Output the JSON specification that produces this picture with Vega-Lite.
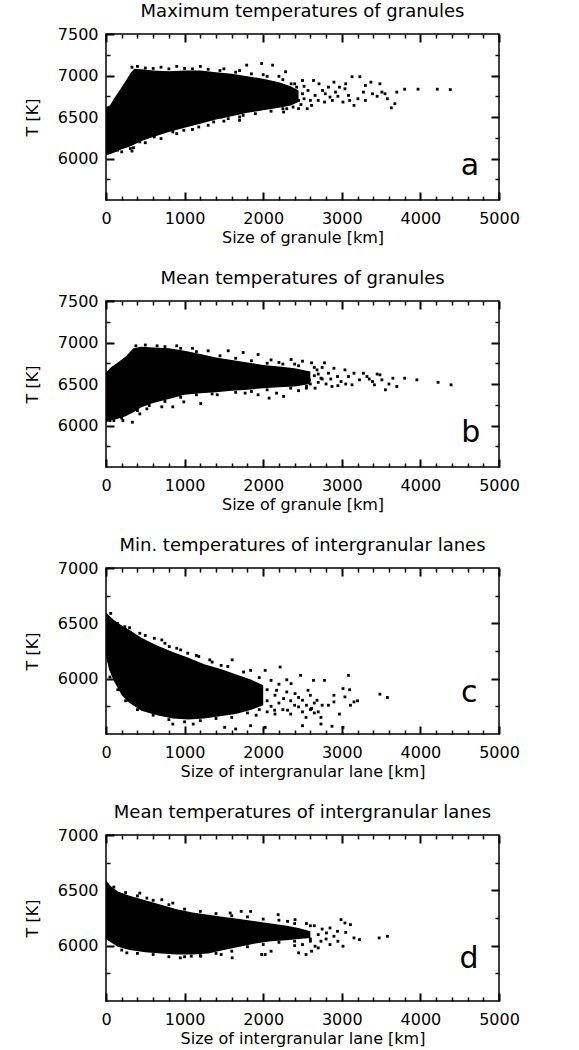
{
"$schema": "https://vega.github.io/schema/vega-lite/v6.json",
"padding": {"left": 23, "top": 2, "right": 3, "bottom": 2},
"spacing": 23,
"config": {
 "font": "DejaVu Sans",
 "view": {"stroke": "#000", "strokeWidth": 1.5},
 "axis": {"grid": false, "domain": false, "ticks": true, "tickColor": "black", "tickOpacity": 1, "tickWidth": 2, "labelColor": "#000", "titleColor": "#000", "labelFont": "DejaVu Sans", "labelFontSize": 16, "titleFont": "DejaVu Sans", "titleFontSize": 16, "titleFontWeight": "normal", "labelFlush": false, "labelOverlap": false, "format": "d"},
 "title": {"font": "DejaVu Sans", "fontSize": 18, "fontWeight": "normal", "color": "#000", "frame": "group", "offset": 5}
},
"datasets": {
 "coreA": [
  {"x":0,"lo":6040,"hi":6620},{"x":50,"lo":6050,"hi":6640},{"x":100,"lo":6070,"hi":6720},{"x":150,"lo":6090,"hi":6790},{"x":200,"lo":6110,"hi":6860},{"x":260,"lo":6130,"hi":6950},{"x":320,"lo":6150,"hi":7040},{"x":360,"lo":6170,"hi":7080},{"x":450,"lo":6210,"hi":7075},{"x":600,"lo":6260,"hi":7060},{"x":800,"lo":6320,"hi":7050},{"x":1000,"lo":6370,"hi":7060},{"x":1200,"lo":6420,"hi":7060},{"x":1400,"lo":6470,"hi":7040},{"x":1600,"lo":6510,"hi":7020},{"x":1800,"lo":6550,"hi":6990},{"x":2000,"lo":6580,"hi":6960},{"x":2200,"lo":6610,"hi":6920},{"x":2350,"lo":6640,"hi":6870},{"x":2450,"lo":6680,"hi":6820}
 ],
 "ptsA": [
  {"x":4380,"t":6830},{"x":4215,"t":6835},{"x":3970,"t":6835},{"x":3800,"t":6835},{"x":3675,"t":6660},{"x":3580,"t":6720},{"x":3630,"t":6610},{"x":3510,"t":6800},{"x":3485,"t":6900},{"x":3390,"t":6780},{"x":3370,"t":6920},{"x":3275,"t":6800},{"x":3230,"t":6985},{"x":3205,"t":6720},{"x":3155,"t":6640},{"x":3130,"t":6985},{"x":3085,"t":6760},{"x":3040,"t":6840},{"x":3015,"t":6680},{"x":2970,"t":6860},{"x":2920,"t":6800},{"x":2900,"t":6920},{"x":2850,"t":6740},{"x":2830,"t":6860},{"x":2780,"t":6680},{"x":2755,"t":6820},{"x":2710,"t":6900},{"x":2660,"t":6760},{"x":2615,"t":6640},{"x":2640,"t":6940},{"x":2570,"t":6820},{"x":2520,"t":6720},{"x":2500,"t":6940},{"x":2450,"t":6600},{"x":2425,"t":6860},{"x":2405,"t":6760},{"x":2355,"t":6900},{"x":2335,"t":6680},{"x":2285,"t":7045},{"x":2260,"t":6560},{"x":2120,"t":7125},{"x":1980,"t":7145},{"x":1790,"t":7125},{"x":1555,"t":6480},{"x":1370,"t":6440},{"x":1180,"t":6380},{"x":990,"t":6340},{"x":850,"t":6320},{"x":615,"t":6260},{"x":430,"t":6200},{"x":310,"t":6120},{"x":145,"t":6100},{"x":240,"t":6200},{"x":1700,"t":6460},{"x":1745,"t":6520},{"x":1465,"t":6500},{"x":400,"t":7110},{"x":700,"t":7100},{"x":900,"t":7110},{"x":1200,"t":7110},{"x":1500,"t":7080},{"x":1700,"t":7060},{"x":2000,"t":7010},{"x":2200,"t":6990},{"x":2500,"t":6780},{"x":2560,"t":6600},{"x":2600,"t":6700},{"x":2480,"t":6650},{"x":2380,"t":6620},{"x":2300,"t":6600},{"x":2700,"t":6700},{"x":2790,"t":6780},{"x":2880,"t":6700},{"x":2950,"t":6750},{"x":3100,"t":6700},{"x":3300,"t":6700},{"x":3450,"t":6750},{"x":3550,"t":6780},{"x":3700,"t":6800},{"x":3300,"t":6880},{"x":3050,"t":6900},{"x":330,"t":6090},
  {"x":200,"t":6080},{"x":350,"t":6130},{"x":500,"t":6190},{"x":700,"t":6240},{"x":900,"t":6300},{"x":1100,"t":6350},{"x":1300,"t":6400},{"x":1500,"t":6450},{"x":1700,"t":6500},{"x":1900,"t":6540},{"x":2100,"t":6570},{"x":2250,"t":6600},{"x":330,"t":7100},{"x":500,"t":7090},{"x":600,"t":7085},{"x":800,"t":7080},{"x":1000,"t":7085},{"x":1100,"t":7080},{"x":1300,"t":7075},{"x":1450,"t":7060},{"x":1650,"t":7040},{"x":1850,"t":7020},{"x":2050,"t":6990},{"x":2250,"t":6950},{"x":2400,"t":6900},{"x":2450,"t":6700},{"x":2520,"t":6870}
 ],
 "coreB": [
  {"x":0,"lo":6040,"hi":6640},{"x":60,"lo":6060,"hi":6700},{"x":150,"lo":6080,"hi":6760},{"x":250,"lo":6110,"hi":6830},{"x":350,"lo":6160,"hi":6930},{"x":450,"lo":6220,"hi":6950},{"x":600,"lo":6270,"hi":6940},{"x":800,"lo":6320,"hi":6930},{"x":1000,"lo":6370,"hi":6900},{"x":1200,"lo":6390,"hi":6860},{"x":1400,"lo":6400,"hi":6820},{"x":1600,"lo":6420,"hi":6790},{"x":1800,"lo":6430,"hi":6760},{"x":2000,"lo":6450,"hi":6730},{"x":2200,"lo":6460,"hi":6710},{"x":2400,"lo":6470,"hi":6690},{"x":2600,"lo":6500,"hi":6650}
 ],
 "ptsB": [
  {"x":4390,"t":6490},{"x":4225,"t":6520},{"x":3955,"t":6550},{"x":3800,"t":6570},{"x":3700,"t":6470},{"x":3650,"t":6570},{"x":3555,"t":6430},{"x":3510,"t":6550},{"x":3485,"t":6610},{"x":3415,"t":6490},{"x":3390,"t":6530},{"x":3320,"t":6590},{"x":3275,"t":6630},{"x":3225,"t":6550},{"x":3155,"t":6630},{"x":3130,"t":6490},{"x":3085,"t":6590},{"x":3040,"t":6670},{"x":2990,"t":6530},{"x":2945,"t":6590},{"x":2900,"t":6690},{"x":2875,"t":6470},{"x":2830,"t":6630},{"x":2780,"t":6755},{"x":2735,"t":6570},{"x":2685,"t":6670},{"x":2660,"t":6450},{"x":2615,"t":6755},{"x":2590,"t":6550},{"x":2500,"t":6775},{"x":2355,"t":6795},{"x":2260,"t":6350},{"x":2170,"t":6390},{"x":2075,"t":6330},{"x":1935,"t":6370},{"x":1935,"t":6855},{"x":1770,"t":6390},{"x":1745,"t":6880},{"x":1555,"t":6900},{"x":1415,"t":6370},{"x":1205,"t":6265},{"x":990,"t":6285},{"x":850,"t":6225},{"x":710,"t":6225},{"x":520,"t":6200},{"x":430,"t":6140},{"x":335,"t":6040},{"x":215,"t":6060},{"x":50,"t":6060},{"x":2700,"t":6520},{"x":2750,"t":6700},{"x":2800,"t":6500},{"x":2650,"t":6600},{"x":2550,"t":6450},{"x":2450,"t":6420},{"x":2400,"t":6740},{"x":2200,"t":6760},{"x":2100,"t":6790},{"x":1300,"t":6900},{"x":1100,"t":6930},{"x":900,"t":6960},{"x":2950,"t":6480},{"x":3050,"t":6500},{"x":3350,"t":6560},{"x":3450,"t":6620},{"x":3600,"t":6500},{"x":2860,"t":6560},{"x":2600,"t":6500},
  {"x":100,"t":6060},{"x":200,"t":6090},{"x":400,"t":6180},{"x":550,"t":6240},{"x":750,"t":6290},{"x":950,"t":6340},{"x":1150,"t":6370},{"x":1350,"t":6380},{"x":1650,"t":6400},{"x":1850,"t":6410},{"x":2050,"t":6430},{"x":2350,"t":6450},{"x":2550,"t":6470},{"x":380,"t":6960},{"x":500,"t":6970},{"x":650,"t":6960},{"x":750,"t":6950},{"x":950,"t":6930},{"x":1150,"t":6890},{"x":1450,"t":6840},{"x":1650,"t":6810},{"x":1850,"t":6780},{"x":2050,"t":6750},{"x":2250,"t":6740},{"x":2450,"t":6720},{"x":2650,"t":6700},{"x":2700,"t":6620},{"x":2750,"t":6560}
 ],
 "coreC": [
  {"x":0,"lo":6200,"hi":6600},{"x":40,"lo":6080,"hi":6570},{"x":100,"lo":5980,"hi":6530},{"x":200,"lo":5850,"hi":6480},{"x":300,"lo":5780,"hi":6440},{"x":450,"lo":5710,"hi":6370},{"x":650,"lo":5670,"hi":6300},{"x":850,"lo":5640,"hi":6240},{"x":1050,"lo":5630,"hi":6190},{"x":1250,"lo":5640,"hi":6130},{"x":1450,"lo":5660,"hi":6090},{"x":1650,"lo":5680,"hi":6040},{"x":1850,"lo":5720,"hi":5990},{"x":2000,"lo":5760,"hi":5940}
 ],
 "ptsC": [
  {"x":3580,"t":5830},{"x":3485,"t":5860},{"x":3155,"t":5790},{"x":3110,"t":5760},{"x":3085,"t":6030},{"x":3015,"t":5910},{"x":3040,"t":5835},{"x":2970,"t":5680},{"x":2900,"t":5790},{"x":2830,"t":5760},{"x":2780,"t":5985},{"x":2735,"t":5650},{"x":2685,"t":5805},{"x":2640,"t":5985},{"x":2615,"t":5730},{"x":2570,"t":5895},{"x":2545,"t":5650},{"x":2500,"t":5805},{"x":2475,"t":6030},{"x":2450,"t":5745},{"x":2405,"t":5865},{"x":2355,"t":5955},{"x":2310,"t":5715},{"x":2260,"t":5820},{"x":2215,"t":6105},{"x":2170,"t":5895},{"x":2145,"t":5715},{"x":2100,"t":5985},{"x":2025,"t":6075},{"x":1980,"t":5775},{"x":1935,"t":5880},{"x":1910,"t":5670},{"x":1840,"t":6075},{"x":1790,"t":5835},{"x":1745,"t":5760},{"x":1605,"t":6170},{"x":1465,"t":6120},{"x":1320,"t":6170},{"x":1180,"t":6200},{"x":1040,"t":6230},{"x":900,"t":6275},{"x":805,"t":6290},{"x":710,"t":6350},{"x":615,"t":6365},{"x":430,"t":6410},{"x":240,"t":6470},{"x":145,"t":6500},{"x":3015,"t":5560},{"x":2875,"t":5570},{"x":2735,"t":5590},{"x":2500,"t":5575},{"x":2025,"t":5560},{"x":1840,"t":5575},{"x":1650,"t":5545},{"x":1510,"t":5560},{"x":1110,"t":5590},{"x":850,"t":5590},{"x":285,"t":5805},{"x":50,"t":6015},{"x":30,"t":6165},{"x":2050,"t":5800},{"x":2100,"t":5750},{"x":2150,"t":5850},{"x":2200,"t":5780},{"x":2250,"t":5720},{"x":2300,"t":5880},{"x":2350,"t":5800},{"x":2400,"t":5760},{"x":2450,"t":5830},{"x":2500,"t":5700},{"x":2550,"t":5760},{"x":2600,"t":5720},{"x":2650,"t":5780},{"x":2700,"t":5700},{"x":2750,"t":5760},{"x":2200,"t":5950},{"x":2300,"t":5990},{"x":2050,"t":5900},{"x":2150,"t":5680},{"x":2350,"t":5680},{"x":2600,"t":5850},{"x":2650,"t":5690},{"x":2050,"t":5700},{"x":1950,"t":5850},{"x":2900,"t":5850},{"x":3200,"t":5800},{"x":3100,"t":5900},
  {"x":60,"t":6590},{"x":300,"t":6460},{"x":500,"t":6390},{"x":750,"t":6320},{"x":950,"t":6260},{"x":1150,"t":6210},{"x":1350,"t":6150},{"x":1550,"t":6110},{"x":1750,"t":6060},{"x":1950,"t":6010},{"x":150,"t":5900},{"x":250,"t":5800},{"x":400,"t":5720},{"x":600,"t":5670},{"x":800,"t":5630},{"x":1000,"t":5610},{"x":1200,"t":5620},{"x":1400,"t":5640},{"x":1600,"t":5650},{"x":1800,"t":5690},{"x":1950,"t":5720}
 ],
 "coreD": [
  {"x":0,"lo":6060,"hi":6590},{"x":60,"lo":6030,"hi":6540},{"x":150,"lo":5990,"hi":6490},{"x":300,"lo":5960,"hi":6450},{"x":500,"lo":5940,"hi":6410},{"x":700,"lo":5930,"hi":6370},{"x":900,"lo":5920,"hi":6330},{"x":1100,"lo":5920,"hi":6300},{"x":1300,"lo":5930,"hi":6280},{"x":1500,"lo":5960,"hi":6260},{"x":1700,"lo":5990,"hi":6240},{"x":1900,"lo":6020,"hi":6220},{"x":2100,"lo":6040,"hi":6200},{"x":2300,"lo":6050,"hi":6180},{"x":2450,"lo":6060,"hi":6160},{"x":2600,"lo":6070,"hi":6130}
 ],
 "ptsD": [
  {"x":3580,"t":6085},{"x":3475,"t":6070},{"x":3225,"t":6055},{"x":3155,"t":6070},{"x":3110,"t":6190},{"x":3040,"t":6205},{"x":3015,"t":5995},{"x":2990,"t":6235},{"x":2945,"t":6130},{"x":2900,"t":6085},{"x":2850,"t":6160},{"x":2805,"t":6115},{"x":2735,"t":6040},{"x":2660,"t":5995},{"x":2615,"t":5950},{"x":2545,"t":5920},{"x":2450,"t":5935},{"x":2405,"t":6235},{"x":2310,"t":6220},{"x":2190,"t":6280},{"x":2100,"t":5950},{"x":2025,"t":5920},{"x":1980,"t":5920},{"x":1840,"t":6310},{"x":1720,"t":6310},{"x":1580,"t":6295},{"x":1605,"t":5890},{"x":1465,"t":5920},{"x":1205,"t":5905},{"x":1085,"t":5905},{"x":945,"t":5890},{"x":850,"t":6385},{"x":710,"t":6415},{"x":520,"t":6430},{"x":430,"t":6475},{"x":265,"t":5935},{"x":50,"t":6085},{"x":30,"t":6190},{"x":2700,"t":6100},{"x":2750,"t":6150},{"x":2800,"t":6060},{"x":2650,"t":6180},{"x":2550,"t":6200},{"x":2500,"t":6010},{"x":2400,"t":6000},{"x":2850,"t":6010},{"x":2950,"t":6040},{"x":3050,"t":6120},{"x":2600,"t":6060},{"x":2700,"t":5980},
  {"x":100,"t":6530},{"x":250,"t":6480},{"x":400,"t":6450},{"x":600,"t":6410},{"x":800,"t":6370},{"x":1000,"t":6330},{"x":1200,"t":6310},{"x":1400,"t":6290},{"x":1600,"t":6270},{"x":1800,"t":6260},{"x":2000,"t":6240},{"x":2200,"t":6230},{"x":2400,"t":6200},{"x":2600,"t":6180},{"x":200,"t":5960},{"x":400,"t":5930},{"x":600,"t":5920},{"x":800,"t":5900},{"x":1000,"t":5900},{"x":1200,"t":5910},{"x":1400,"t":5930},{"x":1600,"t":5950},{"x":1800,"t":5990},{"x":2000,"t":6010},{"x":2200,"t":6030},{"x":2400,"t":6040},{"x":2600,"t":6040}
 ]
},
"vconcat": [
 {
  "width": 393, "height": 166,
  "title": "Maximum temperatures of granules",
  "resolve": {"axis": {"x": "independent", "y": "independent"}},
  "layer": [
   {"data": {"name": "coreA"}, "mark": {"type": "area", "color": "#000", "opacity": 1},
    "encoding": {
     "x": {"field": "x", "type": "quantitative", "scale": {"domain": [0, 5000], "nice": false, "zero": false}, "axis": {"orient": "bottom", "values": [0,1000,2000,3000,4000,5000], "offset": -8, "tickSize": 8, "labelPadding": 10, "title": "Size of granule [km]", "titlePadding": 3}},
     "y": {"field": "lo", "type": "quantitative", "scale": {"domain": [5500, 7500], "nice": false, "zero": false}, "axis": {"orient": "left", "values": [6000,6500,7000,7500], "offset": -8, "tickSize": 8, "labelPadding": 8, "title": "T [K]", "titlePadding": 17}},
     "y2": {"field": "hi"}
    }},
   {"data": {"name": "ptsA"}, "mark": {"type": "square", "color": "#000", "size": 8, "opacity": 1},
    "encoding": {
     "x": {"field": "x", "type": "quantitative", "axis": {"orient": "top", "values": [0,1000,2000,3000,4000,5000], "offset": -8, "tickSize": 8, "labels": false, "title": null}},
     "y": {"field": "t", "type": "quantitative", "axis": {"orient": "right", "values": [6000,6500,7000], "offset": -8, "tickSize": 8, "labels": false, "title": null}}
    }},
   {"data": {"values": [{"label": "a", "x": 4630, "t": 5800}]}, "mark": {"type": "text", "fontSize": 30, "color": "#000", "baseline": "alphabetic", "align": "center"},
    "encoding": {
     "x": {"field": "x", "type": "quantitative", "axis": {"orient": "bottom", "values": [200,400,600,800,1200,1400,1600,1800,2200,2400,2600,2800,3200,3400,3600,3800,4200,4400,4600,4800], "offset": -4, "tickSize": 4, "tickWidth": 1.5, "labels": false, "title": null}},
     "y": {"field": "t", "type": "quantitative", "axis": {"orient": "left", "values": [5750,6250,6750,7250], "offset": -4, "tickSize": 4, "tickWidth": 1.5, "labels": false, "title": null}},
     "text": {"field": "label"}
    }},
   {"data": {"values": [{"label": "a", "x": 4630, "t": 5800}]}, "mark": {"type": "text", "opacity": 0},
    "encoding": {
     "x": {"field": "x", "type": "quantitative", "axis": {"orient": "top", "values": [200,400,600,800,1200,1400,1600,1800,2200,2400,2600,2800,3200,3400,3600,3800,4200,4400,4600,4800], "offset": -4, "tickSize": 4, "tickWidth": 1.5, "labels": false, "title": null}},
     "y": {"field": "t", "type": "quantitative", "axis": {"orient": "right", "values": [5750,6250,6750,7250], "offset": -4, "tickSize": 4, "tickWidth": 1.5, "labels": false, "title": null}},
     "text": {"field": "label"}
    }}
  ]
 },
 {
  "width": 393, "height": 166,
  "title": "Mean temperatures of granules",
  "resolve": {"axis": {"x": "independent", "y": "independent"}},
  "layer": [
   {"data": {"name": "coreB"}, "mark": {"type": "area", "color": "#000", "opacity": 1},
    "encoding": {
     "x": {"field": "x", "type": "quantitative", "scale": {"domain": [0, 5000], "nice": false, "zero": false}, "axis": {"orient": "bottom", "values": [0,1000,2000,3000,4000,5000], "offset": -8, "tickSize": 8, "labelPadding": 10, "title": "Size of granule [km]", "titlePadding": 3}},
     "y": {"field": "lo", "type": "quantitative", "scale": {"domain": [5500, 7500], "nice": false, "zero": false}, "axis": {"orient": "left", "values": [6000,6500,7000,7500], "offset": -8, "tickSize": 8, "labelPadding": 8, "title": "T [K]", "titlePadding": 17}},
     "y2": {"field": "hi"}
    }},
   {"data": {"name": "ptsB"}, "mark": {"type": "square", "color": "#000", "size": 8, "opacity": 1},
    "encoding": {
     "x": {"field": "x", "type": "quantitative", "axis": {"orient": "top", "values": [0,1000,2000,3000,4000,5000], "offset": -8, "tickSize": 8, "labels": false, "title": null}},
     "y": {"field": "t", "type": "quantitative", "axis": {"orient": "right", "values": [6000,6500,7000], "offset": -8, "tickSize": 8, "labels": false, "title": null}}
    }},
   {"data": {"values": [{"label": "b", "x": 4640, "t": 5800}]}, "mark": {"type": "text", "fontSize": 30, "color": "#000", "baseline": "alphabetic", "align": "center"},
    "encoding": {
     "x": {"field": "x", "type": "quantitative", "axis": {"orient": "bottom", "values": [200,400,600,800,1200,1400,1600,1800,2200,2400,2600,2800,3200,3400,3600,3800,4200,4400,4600,4800], "offset": -4, "tickSize": 4, "tickWidth": 1.5, "labels": false, "title": null}},
     "y": {"field": "t", "type": "quantitative", "axis": {"orient": "left", "values": [5750,6250,6750,7250], "offset": -4, "tickSize": 4, "tickWidth": 1.5, "labels": false, "title": null}},
     "text": {"field": "label"}
    }},
   {"data": {"values": [{"label": "b", "x": 4640, "t": 5800}]}, "mark": {"type": "text", "opacity": 0},
    "encoding": {
     "x": {"field": "x", "type": "quantitative", "axis": {"orient": "top", "values": [200,400,600,800,1200,1400,1600,1800,2200,2400,2600,2800,3200,3400,3600,3800,4200,4400,4600,4800], "offset": -4, "tickSize": 4, "tickWidth": 1.5, "labels": false, "title": null}},
     "y": {"field": "t", "type": "quantitative", "axis": {"orient": "right", "values": [5750,6250,6750,7250], "offset": -4, "tickSize": 4, "tickWidth": 1.5, "labels": false, "title": null}},
     "text": {"field": "label"}
    }}
  ]
 },
 {
  "width": 393, "height": 166,
  "title": "Min. temperatures of intergranular lanes",
  "resolve": {"axis": {"x": "independent", "y": "independent"}},
  "layer": [
   {"data": {"name": "coreC"}, "mark": {"type": "area", "color": "#000", "opacity": 1},
    "encoding": {
     "x": {"field": "x", "type": "quantitative", "scale": {"domain": [0, 5000], "nice": false, "zero": false}, "axis": {"orient": "bottom", "values": [0,1000,2000,3000,4000,5000], "offset": -8, "tickSize": 8, "labelPadding": 10, "title": "Size of intergranular lane [km]", "titlePadding": 3}},
     "y": {"field": "lo", "type": "quantitative", "scale": {"domain": [5500, 7000], "nice": false, "zero": false}, "axis": {"orient": "left", "values": [6000,6500,7000], "offset": -8, "tickSize": 8, "labelPadding": 8, "title": "T [K]", "titlePadding": 17}},
     "y2": {"field": "hi"}
    }},
   {"data": {"name": "ptsC"}, "mark": {"type": "square", "color": "#000", "size": 8, "opacity": 1},
    "encoding": {
     "x": {"field": "x", "type": "quantitative", "axis": {"orient": "top", "values": [0,1000,2000,3000,4000,5000], "offset": -8, "tickSize": 8, "labels": false, "title": null}},
     "y": {"field": "t", "type": "quantitative", "axis": {"orient": "right", "values": [6000,6500], "offset": -8, "tickSize": 8, "labels": false, "title": null}}
    }},
   {"data": {"values": [{"label": "c", "x": 4620, "t": 5790}]}, "mark": {"type": "text", "fontSize": 30, "color": "#000", "baseline": "alphabetic", "align": "center"},
    "encoding": {
     "x": {"field": "x", "type": "quantitative", "axis": {"orient": "bottom", "values": [200,400,600,800,1200,1400,1600,1800,2200,2400,2600,2800,3200,3400,3600,3800,4200,4400,4600,4800], "offset": -4, "tickSize": 4, "tickWidth": 1.5, "labels": false, "title": null}},
     "y": {"field": "t", "type": "quantitative", "axis": {"orient": "left", "values": [5750,6250,6750], "offset": -4, "tickSize": 4, "tickWidth": 1.5, "labels": false, "title": null}},
     "text": {"field": "label"}
    }},
   {"data": {"values": [{"label": "c", "x": 4620, "t": 5790}]}, "mark": {"type": "text", "opacity": 0},
    "encoding": {
     "x": {"field": "x", "type": "quantitative", "axis": {"orient": "top", "values": [200,400,600,800,1200,1400,1600,1800,2200,2400,2600,2800,3200,3400,3600,3800,4200,4400,4600,4800], "offset": -4, "tickSize": 4, "tickWidth": 1.5, "labels": false, "title": null}},
     "y": {"field": "t", "type": "quantitative", "axis": {"orient": "right", "values": [5750,6250,6750], "offset": -4, "tickSize": 4, "tickWidth": 1.5, "labels": false, "title": null}},
     "text": {"field": "label"}
    }}
  ]
 },
 {
  "width": 393, "height": 166,
  "title": "Mean temperatures of intergranular lanes",
  "resolve": {"axis": {"x": "independent", "y": "independent"}},
  "layer": [
   {"data": {"name": "coreD"}, "mark": {"type": "area", "color": "#000", "opacity": 1},
    "encoding": {
     "x": {"field": "x", "type": "quantitative", "scale": {"domain": [0, 5000], "nice": false, "zero": false}, "axis": {"orient": "bottom", "values": [0,1000,2000,3000,4000,5000], "offset": -8, "tickSize": 8, "labelPadding": 10, "title": "Size of intergranular lane [km]", "titlePadding": 3}},
     "y": {"field": "lo", "type": "quantitative", "scale": {"domain": [5500, 7000], "nice": false, "zero": false}, "axis": {"orient": "left", "values": [6000,6500,7000], "offset": -8, "tickSize": 8, "labelPadding": 8, "title": "T [K]", "titlePadding": 17}},
     "y2": {"field": "hi"}
    }},
   {"data": {"name": "ptsD"}, "mark": {"type": "square", "color": "#000", "size": 8, "opacity": 1},
    "encoding": {
     "x": {"field": "x", "type": "quantitative", "axis": {"orient": "top", "values": [0,1000,2000,3000,4000,5000], "offset": -8, "tickSize": 8, "labels": false, "title": null}},
     "y": {"field": "t", "type": "quantitative", "axis": {"orient": "right", "values": [6000,6500], "offset": -8, "tickSize": 8, "labels": false, "title": null}}
    }},
   {"data": {"values": [{"label": "d", "x": 4620, "t": 5800}]}, "mark": {"type": "text", "fontSize": 30, "color": "#000", "baseline": "alphabetic", "align": "center"},
    "encoding": {
     "x": {"field": "x", "type": "quantitative", "axis": {"orient": "bottom", "values": [200,400,600,800,1200,1400,1600,1800,2200,2400,2600,2800,3200,3400,3600,3800,4200,4400,4600,4800], "offset": -4, "tickSize": 4, "tickWidth": 1.5, "labels": false, "title": null}},
     "y": {"field": "t", "type": "quantitative", "axis": {"orient": "left", "values": [5750,6250,6750], "offset": -4, "tickSize": 4, "tickWidth": 1.5, "labels": false, "title": null}},
     "text": {"field": "label"}
    }},
   {"data": {"values": [{"label": "d", "x": 4620, "t": 5800}]}, "mark": {"type": "text", "opacity": 0},
    "encoding": {
     "x": {"field": "x", "type": "quantitative", "axis": {"orient": "top", "values": [200,400,600,800,1200,1400,1600,1800,2200,2400,2600,2800,3200,3400,3600,3800,4200,4400,4600,4800], "offset": -4, "tickSize": 4, "tickWidth": 1.5, "labels": false, "title": null}},
     "y": {"field": "t", "type": "quantitative", "axis": {"orient": "right", "values": [5750,6250,6750], "offset": -4, "tickSize": 4, "tickWidth": 1.5, "labels": false, "title": null}},
     "text": {"field": "label"}
    }}
  ]
 }
]
}
